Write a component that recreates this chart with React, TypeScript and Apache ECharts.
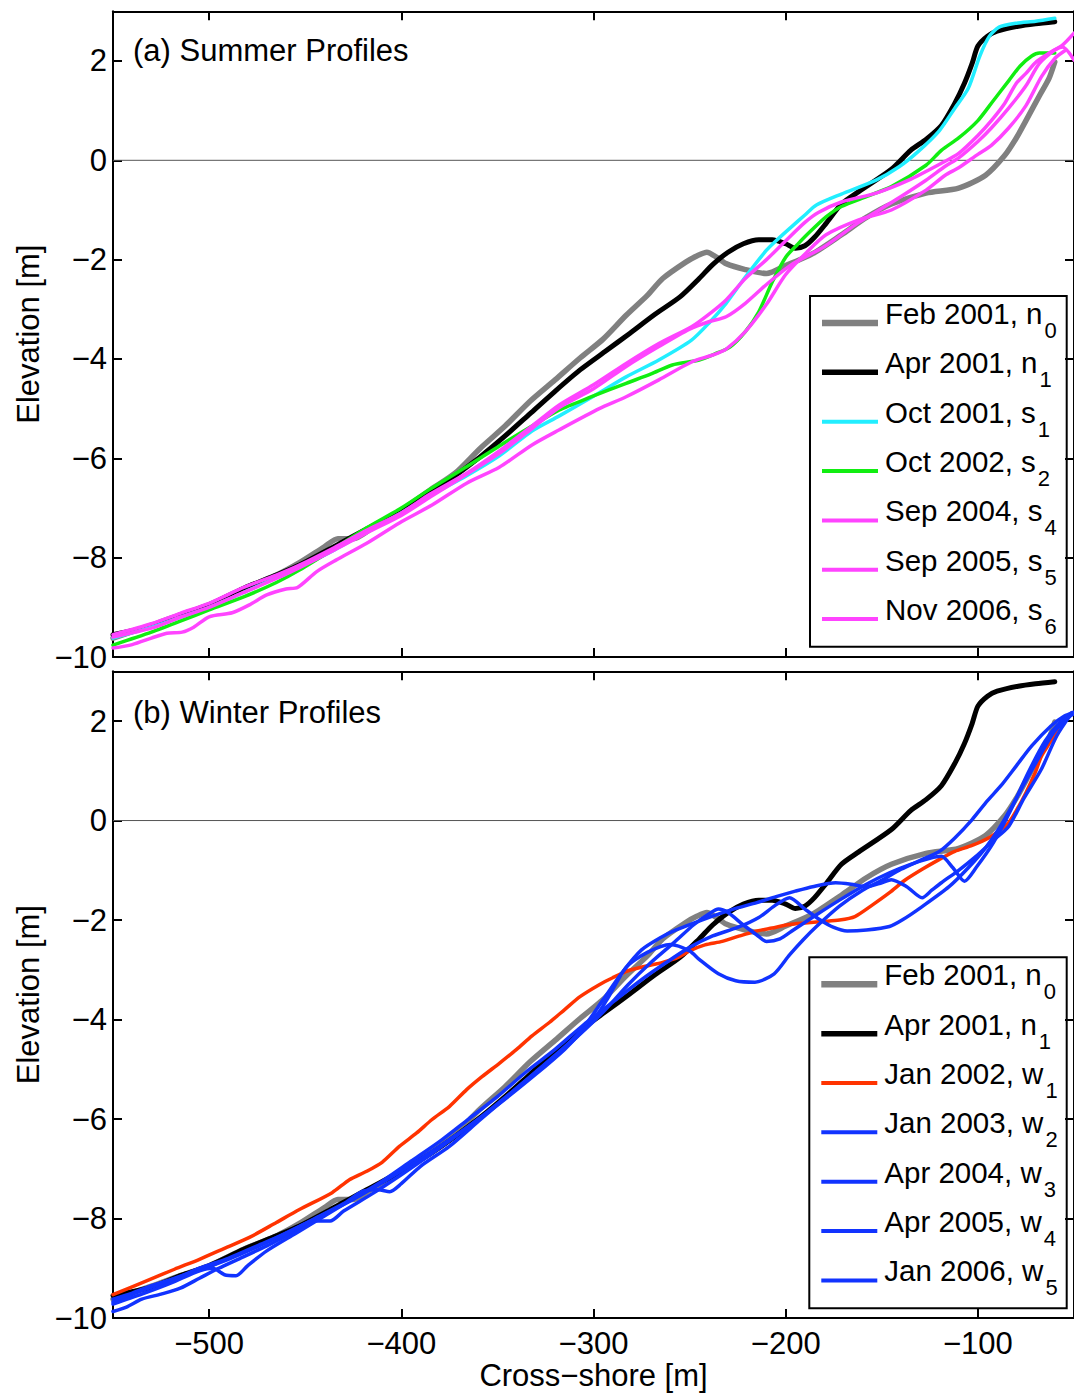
import React, { useEffect, useRef } from 'react';
import * as echarts from 'echarts';

// ---------- axes ----------
const xRange = [-550, -50];
const yRange = [-10, 3];
const yTickStep = 2;
const zeroLine = [[-550, 0], [-50, 0]];

// ---------- reference profiles (shown in both panels) ----------
const feb2001N0 = [[-550,-9.62],[-530,-9.36],[-515,-9.15],[-500,-8.95],[-482,-8.62],[-465,-8.35],[-453,-8.1],[-440,-7.78],[-433,-7.62],[-425,-7.62],[-415,-7.4],[-400,-7.05],[-385,-6.64],[-372,-6.3],[-359,-5.8],[-346,-5.35],[-333,-4.85],[-320,-4.42],[-307,-3.98],[-295,-3.6],[-283,-3.12],[-272,-2.72],[-264,-2.38],[-252,-2.05],[-246,-1.92],[-241,-1.85],[-236,-1.95],[-231,-2.08],[-221,-2.2],[-210,-2.28],[-200,-2.12],[-186,-1.88],[-171,-1.5],[-158,-1.15],[-145,-0.88],[-127,-0.66],[-110,-0.56],[-96,-0.3],[-86,0.1],[-80,0.45],[-75,0.8],[-68,1.3],[-63,1.65],[-60,1.98]];
const apr2001N1 = [[-550,-9.55],[-530,-9.38],[-515,-9.15],[-500,-8.95],[-482,-8.62],[-465,-8.35],[-453,-8.15],[-435,-7.78],[-418,-7.42],[-400,-7.05],[-385,-6.7],[-372,-6.35],[-359,-5.97],[-346,-5.55],[-333,-5.1],[-320,-4.65],[-307,-4.22],[-294,-3.85],[-281,-3.48],[-268,-3.1],[-255,-2.75],[-245,-2.38],[-238,-2.1],[-230,-1.85],[-222,-1.68],[-214,-1.6],[-207,-1.6],[-200,-1.68],[-195,-1.77],[-190,-1.72],[-185,-1.55],[-179,-1.27],[-171,-0.88],[-162,-0.63],[-145,-0.18],[-135,0.2],[-127,0.42],[-119,0.7],[-112,1.15],[-107,1.55],[-103,1.95],[-100,2.3],[-95,2.5],[-90,2.6],[-79,2.7],[-70,2.75],[-60,2.79]];

// ---------- summer profiles ----------
const oct2001S1 = [[-550,-9.62],[-530,-9.4],[-515,-9.2],[-500,-9.0],[-482,-8.7],[-465,-8.4],[-453,-8.2],[-435,-7.85],[-418,-7.48],[-400,-7.1],[-385,-6.75],[-366,-6.35],[-349,-5.95],[-332,-5.45],[-318,-5.15],[-300,-4.75],[-283,-4.36],[-266,-4.02],[-249,-3.62],[-240,-3.28],[-231,-2.88],[-221,-2.35],[-210,-1.81],[-205,-1.62],[-197,-1.34],[-190,-1.1],[-184,-0.9],[-171,-0.68],[-153,-0.4],[-141,-0.13],[-131,0.18],[-120,0.6],[-112,1.05],[-105,1.45],[-99,2.1],[-94,2.5],[-89,2.68],[-80,2.76],[-70,2.8],[-60,2.86]];
const oct2002S2 = [[-550,-9.76],[-530,-9.5],[-515,-9.28],[-500,-9.05],[-482,-8.79],[-465,-8.5],[-453,-8.25],[-435,-7.82],[-418,-7.4],[-400,-7.0],[-385,-6.62],[-366,-6.17],[-349,-5.75],[-332,-5.35],[-318,-5.03],[-301,-4.76],[-283,-4.49],[-270,-4.3],[-259,-4.12],[-245,-4.02],[-237,-3.9],[-229,-3.76],[-221,-3.45],[-214,-3.05],[-207,-2.45],[-200,-1.95],[-194,-1.7],[-189,-1.5],[-179,-1.14],[-171,-0.93],[-158,-0.73],[-145,-0.53],[-127,-0.1],[-119,0.2],[-110,0.45],[-100,0.8],[-92,1.2],[-84,1.6],[-78,1.9],[-72,2.1],[-68,2.16],[-60,2.16]];
const sep2004S4 = [[-550,-9.55],[-530,-9.33],[-515,-9.12],[-500,-8.92],[-482,-8.6],[-465,-8.35],[-453,-8.15],[-435,-7.8],[-418,-7.45],[-400,-7.1],[-385,-6.72],[-366,-6.3],[-349,-5.85],[-332,-5.35],[-318,-4.93],[-300,-4.52],[-283,-4.09],[-266,-3.69],[-249,-3.35],[-240,-3.1],[-231,-2.81],[-221,-2.38],[-210,-2.0],[-200,-1.62],[-190,-1.25],[-183,-1.05],[-171,-0.84],[-153,-0.66],[-136,-0.4],[-119,-0.06],[-110,0.14],[-100,0.5],[-93,0.8],[-86,1.15],[-80,1.55],[-75,1.75],[-70,1.97],[-62,2.18],[-56,2.32],[-50,2.56]];
const sep2005S5 = [[-550,-9.6],[-530,-9.42],[-515,-9.2],[-500,-9.0],[-482,-8.7],[-465,-8.42],[-453,-8.2],[-435,-7.85],[-418,-7.5],[-400,-7.15],[-385,-6.78],[-366,-6.32],[-349,-5.9],[-332,-5.4],[-318,-4.98],[-300,-4.6],[-283,-4.15],[-266,-3.75],[-250,-3.4],[-240,-3.25],[-231,-3.15],[-221,-2.88],[-210,-2.5],[-197,-2.1],[-180,-1.74],[-162,-1.25],[-145,-0.85],[-127,-0.4],[-117,-0.12],[-110,0.05],[-100,0.38],[-93,0.65],[-84,1.05],[-75,1.5],[-68,1.95],[-60,2.22],[-56,2.28],[-50,2.02]];
const nov2006S6 = [[-550,-9.82],[-540,-9.75],[-530,-9.62],[-522,-9.52],[-514,-9.5],[-508,-9.4],[-500,-9.19],[-488,-9.11],[-479,-8.95],[-470,-8.75],[-460,-8.63],[-454,-8.6],[-444,-8.28],[-434,-8.05],[-418,-7.71],[-401,-7.3],[-384,-6.94],[-366,-6.5],[-349,-6.18],[-332,-5.73],[-318,-5.43],[-297,-5.0],[-283,-4.76],[-266,-4.42],[-249,-4.06],[-238,-3.92],[-231,-3.8],[-221,-3.45],[-210,-2.9],[-200,-2.3],[-189,-1.85],[-179,-1.5],[-162,-1.2],[-145,-1.0],[-127,-0.6],[-117,-0.3],[-110,-0.15],[-100,0.12],[-93,0.3],[-84,0.65],[-75,1.1],[-67,1.68],[-60,2.05],[-55,2.2]];

// ---------- winter profiles ----------
const jan2002W1 = [[-550,-9.53],[-531,-9.23],[-518,-9.02],[-505,-8.82],[-492,-8.6],[-479,-8.38],[-465,-8.08],[-453,-7.82],[-436,-7.48],[-427,-7.22],[-418,-7.05],[-410,-6.87],[-401,-6.55],[-392,-6.28],[-384,-6.01],[-375,-5.75],[-366,-5.41],[-358,-5.15],[-349,-4.88],[-340,-4.6],[-332,-4.33],[-323,-4.06],[-315,-3.8],[-307,-3.54],[-297,-3.3],[-290,-3.16],[-282,-3.02],[-273,-2.93],[-264,-2.85],[-256,-2.75],[-250,-2.62],[-242,-2.5],[-233,-2.43],[-224,-2.32],[-216,-2.23],[-207,-2.16],[-198,-2.09],[-190,-2.06],[-181,-2.03],[-172,-2.0],[-164,-1.93],[-155,-1.7],[-146,-1.45],[-138,-1.2],[-129,-0.98],[-120,-0.78],[-112,-0.62],[-103,-0.5],[-94,-0.34],[-88,-0.18],[-84,-0.04],[-80,0.2],[-75,0.56],[-70,0.98],[-67,1.29],[-62,1.6],[-58,1.89],[-54,2.08],[-51,2.17]];
const jan2003W2 = [[-550,-9.62],[-540,-9.5],[-530,-9.35],[-510,-9.1],[-490,-8.82],[-470,-8.48],[-450,-8.1],[-430,-7.72],[-410,-7.28],[-390,-6.8],[-370,-6.28],[-350,-5.72],[-330,-5.1],[-315,-4.6],[-305,-4.2],[-298,-3.9],[-293,-3.6],[-283,-2.95],[-272,-2.65],[-260,-2.49],[-250,-2.62],[-245,-2.79],[-235,-3.08],[-226,-3.22],[-216,-3.25],[-206,-3.08],[-198,-2.7],[-191,-2.4],[-184,-2.13],[-172,-1.72],[-160,-1.4],[-150,-1.2],[-140,-0.98],[-130,-0.8],[-120,-0.62],[-112,-0.35],[-103,0.02],[-95,0.4],[-88,0.7],[-80,1.1],[-72,1.5],[-62,1.9],[-55,2.1],[-50,2.18]];
const apr2004W3 = [[-550,-9.87],[-543,-9.78],[-535,-9.62],[-525,-9.52],[-515,-9.4],[-505,-9.2],[-495,-9.0],[-485,-8.82],[-470,-8.55],[-455,-8.25],[-445,-8.05],[-437,-8.05],[-430,-7.85],[-415,-7.5],[-400,-7.12],[-385,-6.72],[-370,-6.3],[-355,-5.85],[-340,-5.38],[-325,-4.9],[-310,-4.4],[-295,-3.85],[-282,-3.3],[-270,-2.85],[-258,-2.45],[-248,-2.1],[-240,-1.88],[-235,-1.78],[-230,-1.85],[-222,-2.1],[-215,-2.3],[-210,-2.43],[-203,-2.38],[-196,-2.2],[-185,-1.92],[-172,-1.6],[-158,-1.28],[-146,-1.05],[-135,-0.88],[-125,-0.76],[-119,-0.72],[-113,-0.95],[-107,-1.22],[-101,-0.95],[-92,-0.45],[-83,0.2],[-74,0.95],[-65,1.6],[-57,1.98],[-50,2.15]];
const apr2005W4 = [[-550,-9.68],[-535,-9.45],[-520,-9.25],[-505,-9.0],[-490,-8.8],[-475,-8.55],[-460,-8.3],[-445,-8.0],[-430,-7.7],[-420,-7.45],[-412,-7.42],[-406,-7.46],[-400,-7.3],[-390,-6.95],[-375,-6.55],[-360,-6.05],[-345,-5.55],[-330,-5.05],[-315,-4.55],[-305,-4.15],[-295,-3.6],[-285,-3.05],[-275,-2.6],[-265,-2.35],[-257,-2.2],[-243,-1.99],[-228,-1.79],[-215,-1.65],[-205,-1.53],[-195,-1.42],[-186,-1.33],[-174,-1.25],[-166,-1.28],[-158,-1.33],[-150,-1.25],[-145,-1.19],[-137,-1.33],[-129,-1.55],[-124,-1.4],[-119,-1.25],[-110,-1.0],[-101,-0.72],[-92,-0.4],[-84,-0.12],[-76,0.45],[-67,1.03],[-59,1.7],[-51,2.17]];
const jan2006W5 = [[-550,-9.72],[-535,-9.52],[-520,-9.3],[-505,-9.05],[-498,-9.0],[-492,-9.13],[-486,-9.15],[-480,-8.95],[-470,-8.65],[-455,-8.3],[-440,-7.95],[-425,-7.6],[-410,-7.25],[-395,-6.85],[-380,-6.45],[-365,-6.0],[-350,-5.55],[-335,-5.05],[-320,-4.6],[-305,-4.1],[-290,-3.65],[-275,-3.2],[-262,-2.85],[-250,-2.55],[-238,-2.32],[-225,-2.15],[-214,-1.95],[-206,-1.72],[-198,-1.55],[-190,-1.78],[-182,-2.0],[-175,-2.15],[-168,-2.22],[-158,-2.2],[-146,-2.13],[-139,-1.99],[-129,-1.73],[-115,-1.33],[-105,-0.95],[-96,-0.55],[-88,-0.1],[-80,0.45],[-70,1.15],[-60,1.8],[-50,2.17]];

// ---------- legend / title text ----------
const summerTitle = '(a) Summer Profiles';
const winterTitle = '(b) Winter Profiles';
const summerNames = [['Feb 2001, n', '0'], ['Apr 2001, n', '1'], ['Oct 2001, s', '1'], ['Oct 2002, s', '2'], ['Sep 2004, s', '4'], ['Sep 2005, s', '5'], ['Nov 2006, s', '6']];
const winterNames = [['Feb 2001, n', '0'], ['Apr 2001, n', '1'], ['Jan 2002, w', '1'], ['Jan 2003, w', '2'], ['Apr 2004, w', '3'], ['Apr 2005, w', '4'], ['Jan 2006, w', '5']];
const xAxisName = 'Cross\u2212shore [m]';
const yAxisName = 'Elevation [m]';

// ---------- styles ----------
const FONT = "'Liberation Sans', Arial, Helvetica, sans-serif";
const GRAY = '#808080';
const BLACK = '#000000';
const CYAN = '#22eeff';
const GREEN = '#11ee11';
const MAGENTA = '#ff44ff';
const RED = '#ff3300';
const BLUE = '#1133ff';

const summerData = [feb2001N0, apr2001N1, oct2001S1, oct2002S2, sep2004S4, sep2005S5, nov2006S6];
const summerColors = [GRAY, BLACK, CYAN, GREEN, MAGENTA, MAGENTA, MAGENTA];
const winterData = [feb2001N0, apr2001N1, jan2002W1, jan2003W2, apr2004W3, apr2005W4, jan2006W5];
const winterColors = [GRAY, BLACK, RED, BLUE, BLUE, BLUE, BLUE];
const lineWidths = [5.5, 5, 3.5, 3.5, 3.5, 3.5, 3.5];
const legendWidths = [6.5, 5.5, 4, 4, 4, 4, 4];

const fmt = (v: number) => (v < 0 ? '\u2212' + Math.abs(v) : String(v));

function xAxes(gridIndex: number, withLabels: boolean) {
  const common = {
    type: 'value', gridIndex, min: xRange[0], max: xRange[1], splitNumber: 5,
    axisLine: { show: true, onZero: false, lineStyle: { color: '#000', width: 2 } },
    axisTick: { show: true, inside: true, length: 9, lineStyle: { color: '#000', width: 2 } },
    splitLine: { show: false },
  };
  return [
    {
      ...common, position: 'bottom',
      axisLabel: {
        show: withLabels, margin: 10, fontSize: 31, color: '#000', fontFamily: FONT,
        showMinLabel: false, showMaxLabel: false,
        formatter: (v: number) => (Math.abs(v % 100) < 1e-9 ? fmt(v) : ''),
      },
      name: withLabels ? xAxisName : '', nameLocation: 'middle', nameGap: 42,
      nameTextStyle: { fontSize: 31, color: '#000', fontFamily: FONT },
    },
    { ...common, position: 'top', axisLabel: { show: false } },
  ];
}

function yAxes(gridIndex: number) {
  const common = {
    type: 'value', gridIndex, min: yRange[0], max: yRange[1], interval: yTickStep,
    axisLine: { show: true, onZero: false, lineStyle: { color: '#000', width: 2 } },
    axisTick: { show: true, inside: true, length: 9, lineStyle: { color: '#000', width: 2 } },
    splitLine: { show: false },
  };
  return [
    {
      ...common, position: 'left',
      axisLabel: {
        show: true, margin: 6, fontSize: 31, color: '#000', fontFamily: FONT, showMaxLabel: false,
        formatter: (v: number) => (v === yRange[1] ? '' : fmt(v)),
      },
      name: yAxisName, nameLocation: 'middle', nameGap: 69,
      nameTextStyle: { fontSize: 31, color: '#000', fontFamily: FONT },
    },
    { ...common, position: 'right', axisLabel: { show: false } },
  ];
}

function lineSeries(name: string, data: number[][], color: string, width: number, gi: number, z = 2) {
  return {
    type: 'line', name, data, xAxisIndex: gi * 2, yAxisIndex: gi * 2,
    showSymbol: false, symbol: 'none', smooth: 0.25, silent: true, z,
    lineStyle: { color, width, cap: 'round', join: 'round' }, itemStyle: { color },
  };
}

function legendGroup(left: number, top: number, w: number, h: number, firstY: number, names: string[][], colors: string[]) {
  const children: any[] = [
    { type: 'rect', shape: { x: left, y: top, width: w, height: h }, style: { fill: '#fff', stroke: '#000', lineWidth: 2 } },
  ];
  names.forEach((n, i) => {
    const y = firstY + i * 49.35;
    children.push({ type: 'line', shape: { x1: left + 12, y1: y, x2: left + 68, y2: y }, style: { stroke: colors[i], lineWidth: legendWidths[i] } });
    children.push({
      type: 'text', x: left + 75, y: y - 24.6,
      style: {
        text: `{m|${n[0]}}{s|${n[1]}}`, align: 'left', verticalAlign: 'top',
        rich: {
          m: { fontSize: 29.5, fontFamily: FONT, fill: '#000', verticalAlign: 'top' },
          s: { fontSize: 22, fontFamily: FONT, fill: '#000', verticalAlign: 'top', padding: [21, 0, 0, 2] },
        },
      },
    });
  });
  return { type: 'group', z: 100, children };
}

export default function App() {
  const ref = useRef<HTMLDivElement>(null);
  useEffect(() => {
    if (!ref.current) return;
    const chart = echarts.init(ref.current, undefined, { renderer: 'svg' });
    const series: any[] = [];
    [0, 1].forEach((gi) => {
      series.push({
        type: 'line', data: zeroLine, xAxisIndex: gi * 2, yAxisIndex: gi * 2, showSymbol: false, symbol: 'none', silent: true, z: 1,
        lineStyle: { color: '#555', width: 1 },
      });
    });
    summerData.forEach((d, i) => series.push(lineSeries(summerNames[i].join(''), d, summerColors[i], lineWidths[i], 0, 2 + i)));
    winterData.forEach((d, i) => series.push(lineSeries(winterNames[i].join(''), d, winterColors[i], lineWidths[i], 1, 2 + i)));

    chart.setOption({
      animation: false,
      backgroundColor: '#fff',
      textStyle: { fontFamily: FONT },
      grid: [
        { left: 113, top: 11.3, width: 962.5, height: 645.7 },
        { left: 113, top: 671.3, width: 962.5, height: 646.7 },
      ],
      xAxis: [...xAxes(0, false), ...xAxes(1, true)],
      yAxis: [...yAxes(0), ...yAxes(1)],
      series,
      graphic: [
        { type: 'text', x: 133, y: 50.5, z: 100, style: { text: summerTitle, fontSize: 31, fontFamily: FONT, fill: '#000', verticalAlign: 'middle', align: 'left' } },
        { type: 'text', x: 133, y: 712, z: 100, style: { text: winterTitle, fontSize: 31, fontFamily: FONT, fill: '#000', verticalAlign: 'middle', align: 'left' } },
        legendGroup(810, 296, 256.7, 350.7, 323, summerNames, summerColors),
        legendGroup(809.3, 957.3, 257.4, 351, 984.3, winterNames, winterColors),
      ],
    });
    return () => chart.dispose();
  }, []);
  return <div ref={ref} style={{ position: 'absolute', left: 0, top: 0, width: 1074, height: 1395 }} />;
}
